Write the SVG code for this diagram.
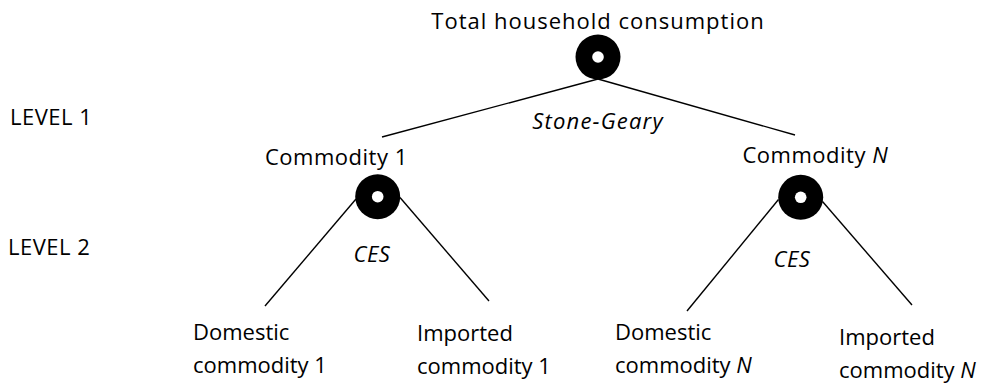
<svg xmlns="http://www.w3.org/2000/svg" width="989" height="383" viewBox="0 0 989 383">
  <style>
    text { font-family: "Open Sans", "Liberation Sans", sans-serif; font-size: 22px; fill: #000; letter-spacing: 0.5px; }
    .it { font-style: italic; }
    .mid { text-anchor: middle; }
    .leaf { letter-spacing: 0; }
    .edge { stroke: #000; stroke-width: 1.4; fill: none; }
    .ring { fill: #000; }
    .hole { fill: #fff; }
  </style>
  <defs>
    <g id="nest">
      <circle class="ring" cx="0" cy="0" r="22.5"/>
      <circle class="hole" cx="0" cy="0" r="5.8"/>
    </g>
  </defs>

  <rect width="989" height="383" fill="#fff"/>

  <!-- level labels -->
  <g id="levels">
    <text x="10" y="125">LEVEL 1</text>
    <text x="8" y="255">LEVEL 2</text>
  </g>

  <!-- connectors -->
  <g id="connectors">
    <line class="edge" x1="598" y1="79" x2="382" y2="137"/>
    <line class="edge" x1="598" y1="79" x2="795" y2="135"/>
    <line class="edge" x1="356" y1="199" x2="265" y2="306"/>
    <line class="edge" x1="400" y1="197.5" x2="489" y2="301"/>
    <line class="edge" x1="778.5" y1="199.5" x2="687" y2="311"/>
    <line class="edge" x1="822.5" y1="201.5" x2="912" y2="305"/>
  </g>

  <!-- function labels -->
  <g id="functions">
    <text class="it mid" x="598" y="128.5" style="letter-spacing:1.2px">Stone-Geary</text>
    <text class="it mid" x="372" y="262">CES</text>
    <text class="it mid" x="792" y="267">CES</text>
  </g>

  <g id="total">
    <text class="mid" x="598" y="28.5" style="letter-spacing:1px">Total household consumption</text>
    <use href="#nest" x="598" y="57"/>
  </g>

  <g id="commodity-1">
    <text x="265" y="164.5">Commodity 1</text>
    <use href="#nest" x="377.7" y="196.7"/>
  </g>

  <g id="commodity-n">
    <text x="742.5" y="163">Commodity <tspan class="it">N</tspan></text>
    <use href="#nest" x="800.7" y="197.3"/>
  </g>

  <g id="domestic-1">
    <text class="leaf" x="193" y="340">Domestic</text>
    <text class="leaf" x="193" y="373">commodity 1</text>
  </g>

  <g id="imported-1">
    <text class="leaf" x="417" y="341">Imported</text>
    <text class="leaf" x="417" y="374">commodity 1</text>
  </g>

  <g id="domestic-n">
    <text class="leaf" x="615" y="340">Domestic</text>
    <text class="leaf" x="615" y="373">commodity <tspan class="it">N</tspan></text>
  </g>

  <g id="imported-n">
    <text class="leaf" x="839" y="345">Imported</text>
    <text class="leaf" x="839" y="377.5">commodity <tspan class="it">N</tspan></text>
  </g>
</svg>
